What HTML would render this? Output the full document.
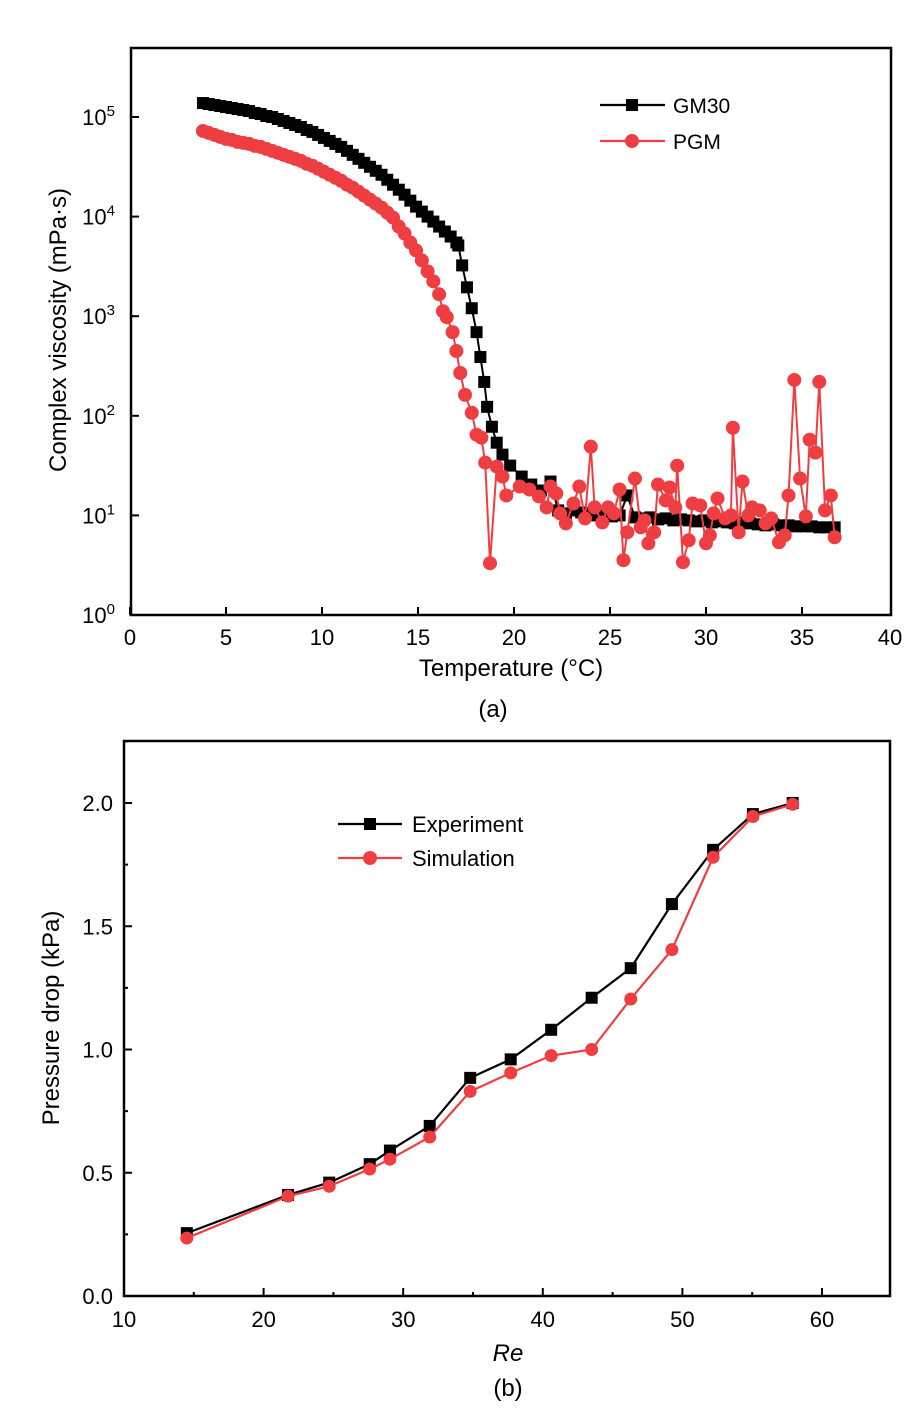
<!DOCTYPE html>
<html><head><meta charset="utf-8"><style>
html,body{margin:0;padding:0;background:#fff;}
svg{display:block;font-family:"Liberation Sans",Arial,sans-serif;}
</style></head><body>
<svg id="fig" width="920" height="1408" viewBox="0 0 920 1408"></svg>
<script>
// ---------- Chart (a) data ----------
const gmTemp = [3.8,4.1,4.4,4.7,5.0,5.3,5.6,5.9,6.2,6.5,6.8,7.1,7.4,7.7,8.0,8.3,8.6,8.9,9.2,9.5,9.8,10.1,10.4,10.7,11.0,11.3,11.6,11.9,12.2,12.5,12.8,13.1,13.4,13.7,14.0,14.3,14.6,14.9,15.2,15.5,15.8,16.1,16.4,16.7,17.0,17.1,17.3,17.55,17.8,18.05,18.25,18.45,18.6,18.85,19.1,19.4,19.8,20.4,20.9,21.4,21.9,22.3,22.7,23.1,23.5,23.9,24.3,24.7,25.1,25.5,25.9,26.3,26.7,27.1,27.5,27.9,28.3,28.7,29.1,29.5,29.9,30.3,30.7,31.1,31.5,31.9,32.3,32.7,33.1,33.5,33.9,34.3,34.7,35.1,35.5,35.9,36.3,36.7];
const gmLogVisc = [5.14,5.13,5.12,5.11,5.10,5.09,5.08,5.07,5.06,5.04,5.03,5.01,5.00,4.98,4.96,4.94,4.92,4.90,4.87,4.85,4.82,4.79,4.76,4.73,4.70,4.66,4.62,4.58,4.54,4.50,4.46,4.42,4.37,4.32,4.27,4.22,4.16,4.10,4.05,4.00,3.95,3.90,3.85,3.80,3.74,3.71,3.51,3.29,3.08,2.84,2.59,2.34,2.09,1.89,1.73,1.61,1.50,1.39,1.31,1.25,1.34,1.05,1.02,1.05,1.03,1.02,1.00,1.02,0.99,1.00,1.20,0.98,0.97,0.98,0.96,0.97,0.95,0.96,0.95,0.94,0.95,0.93,0.94,0.93,0.92,0.93,0.92,0.91,0.90,0.91,0.90,0.90,0.89,0.89,0.89,0.88,0.88,0.88];
const pgmTemp = [3.8,4.1,4.4,4.7,5.0,5.3,5.6,5.9,6.2,6.5,6.8,7.1,7.4,7.7,8.0,8.3,8.6,8.9,9.2,9.5,9.8,10.1,10.4,10.7,11.0,11.3,11.6,11.9,12.2,12.5,12.8,13.1,13.4,13.7,14.0,14.3,14.6,14.9,15.2,15.5,15.8,16.1,16.3,16.5,16.8,17.0,17.2,17.45,17.8,18.05,18.3,18.5,18.75,19.1,19.4,19.6,20.3,20.8,21.3,21.7,21.9,22.2,22.4,22.7,23.1,23.4,23.7,24.0,24.2,24.6,24.9,25.2,25.5,25.7,25.9,26.3,26.6,26.8,27.0,27.3,27.5,27.9,28.1,28.4,28.5,28.8,29.1,29.3,29.7,30.0,30.2,30.4,30.6,31.0,31.3,31.4,31.7,31.9,32.2,32.4,32.8,33.1,33.4,33.8,34.1,34.3,34.6,34.9,35.2,35.4,35.7,35.9,36.2,36.5,36.7];
const pgmLogVisc = [4.86,4.84,4.82,4.80,4.78,4.77,4.75,4.74,4.73,4.71,4.70,4.68,4.66,4.64,4.62,4.60,4.58,4.56,4.53,4.51,4.48,4.45,4.42,4.39,4.36,4.32,4.29,4.25,4.21,4.17,4.13,4.09,4.04,3.99,3.90,3.83,3.74,3.66,3.56,3.45,3.35,3.22,3.05,2.99,2.84,2.65,2.43,2.21,2.03,1.81,1.78,1.53,0.52,1.49,1.39,1.20,1.29,1.26,1.19,1.08,1.29,1.22,1.02,0.92,1.12,1.29,0.97,1.69,1.08,0.93,1.08,1.02,1.26,0.55,0.83,1.37,0.88,0.95,0.72,0.83,1.31,1.15,1.28,1.08,1.50,0.53,0.75,1.12,1.10,0.72,0.80,1.02,1.17,0.97,1.00,1.88,0.83,1.34,1.00,1.08,1.05,0.92,0.97,0.73,0.80,1.20,2.36,1.37,0.99,1.76,1.63,2.34,1.05,1.20,0.78];
const aXTicks = [0,5,10,15,20,25,30,35,40];
const aYDecades = [0,1,2,3,4,5];

// ---------- Chart (b) data ----------
const reValues = [14.5,21.75,24.7,27.6,29.05,31.9,34.8,37.7,40.6,43.5,46.3,49.25,52.2,55.05,57.9];
const expDrop = [0.255,0.41,0.46,0.535,0.59,0.69,0.885,0.96,1.08,1.21,1.33,1.59,1.81,1.955,2.0];
const simDrop = [0.235,0.405,0.445,0.515,0.555,0.645,0.83,0.905,0.975,1.0,1.205,1.405,1.78,1.945,1.995];
const bXTicks = [10,20,30,40,50,60];
const bYTicks = [0.0,0.5,1.0,1.5,2.0];
const bYTickLabels = ["0.0","0.5","1.0","1.5","2.0"];

const NS = "http://www.w3.org/2000/svg";
const svg = document.getElementById('fig');
function mk(tag, attrs, parent) {
  const e = document.createElementNS(NS, tag);
  for (const k in attrs) e.setAttribute(k, attrs[k]);
  (parent || svg).appendChild(e);
  return e;
}
const RED = "#ef3e42";

// ===== Chart (a) =====
const aL = 131, aR = 891, aT = 48, aB = 615;
const ax = v => 130 + 19.2 * v;
const ay = lv => 615 - 99.6 * lv;
const gA = mk('g', {});



aXTicks.forEach(t => {
  const x = Math.min(ax(t), aR);
  const l = mk('line', {x1:x, x2:x, y1:aB, y2:aB-8, stroke:'#000','stroke-width':2}, gA);
  
  
  const tx = mk('text', {x: t===40 ? 890 : x, y:645, 'font-size':22, 'text-anchor':'middle'}, gA);
  tx.textContent = t;
  
  
});
aYDecades.forEach(d => {
  const y = ay(d);
  const l = mk('line', {x1:aL, x2:aL+8, y1:y, y2:y, stroke:'#000','stroke-width':2}, gA);
  
  
  const tx = mk('text', {x:115, y:y+8, 'font-size':22, 'text-anchor':'end'}, gA);
  
  
  tx.innerHTML = '10<tspan dy="-9" font-size="15">' + d + '</tspan>';
});

function series(g, xs, ys, fx, fy, color, shape, size, name, lw) {
  const pts = xs.map((x,i) => fx(x) + ',' + fy(ys[i])).join(' ');
  const pl = mk('polyline', {points: pts, fill:'none', stroke: color, 'stroke-width':lw}, g);
  
  
  xs.forEach((x,i) => {
    const px = fx(x), py = fy(ys[i]);
    let m;
    if (shape === 'sq') m = mk('rect', {x:px-size/2, y:py-size/2, width:size, height:size, fill:color}, g);
    else m = mk('circle', {cx:px, cy:py, r:size/2, fill:color}, g);
    
    
  });
}
series(gA, gmTemp, gmLogVisc, ax, ay, '#000', 'sq', 12, 'gm30', 2);
series(gA, pgmTemp, pgmLogVisc, ax, ay, RED, 'ci', 14, 'pgm', 2);

const boxA = mk('rect', {x:aL, y:aT, width:aR-aL, height:aB-aT, fill:'none', stroke:'#000','stroke-width':2.5}, gA);



// legend a
const legA = mk('g', {}, gA);


mk('line', {x1:600, x2:665, y1:105, y2:105, stroke:'#000','stroke-width':2.2}, legA);
mk('rect', {x:626, y:99, width:12, height:12, fill:'#000'}, legA);
const la1 = mk('text', {x:673, y:113, 'font-size':21}, legA); la1.textContent = 'GM30';


mk('line', {x1:600, x2:665, y1:141, y2:141, stroke:RED,'stroke-width':2.2}, legA);
mk('circle', {cx:632, cy:141, r:7, fill:RED}, legA);
const la2 = mk('text', {x:673, y:149, 'font-size':21}, legA); la2.textContent = 'PGM';



const xtA = mk('text', {x:511, y:676, 'font-size':24, 'text-anchor':'middle'}, gA);
xtA.textContent = 'Temperature (°C)';


const ytA = mk('text', {x:0, y:0, 'font-size':24, 'text-anchor':'middle', transform:'translate(66,330) rotate(-90)'}, gA);
ytA.textContent = 'Complex viscosity (mPa·s)';


const capA = mk('text', {x:493, y:717, 'font-size':24, 'text-anchor':'middle'}, gA);
capA.textContent = '(a)';



// ===== Chart (b) =====
const bL = 124, bR = 890, bT = 741, bB = 1296;
const bx = v => 124 + 13.96 * (v - 10);
const by = v => 1296 - 246.5 * v;
const gB = mk('g', {});



bXTicks.forEach(t => {
  const x = bx(t);
  const l = mk('line', {x1:x, x2:x, y1:bB, y2:bB-8, stroke:'#000','stroke-width':2}, gB);
  
  
  const tx = mk('text', {x:x, y:1327, 'font-size':22, 'text-anchor':'middle'}, gB);
  tx.textContent = t;
  
  
  if (t < 60) {
    const xm = bx(t + 5);
    const m = mk('line', {x1:xm, x2:xm, y1:bB, y2:bB-4, stroke:'#000','stroke-width':2}, gB);
    
    
  }
});
bYTicks.forEach((t,i) => {
  const y = by(t);
  const l = mk('line', {x1:bL, x2:bL+8, y1:y, y2:y, stroke:'#000','stroke-width':2}, gB);
  
  
  const ym = by(t + 0.25);
  const m = mk('line', {x1:bL, x2:bL+4, y1:ym, y2:ym, stroke:'#000','stroke-width':2}, gB);
  
  
  const tx = mk('text', {x:113, y:y+8, 'font-size':22, 'text-anchor':'end'}, gB);
  tx.textContent = bYTickLabels[i];
  
  
});

series(gB, reValues, expDrop, bx, by, '#000', 'sq', 12, 'experiment', 2.2);
series(gB, reValues, simDrop, bx, by, RED, 'ci', 13, 'simulation', 2.2);

const boxB = mk('rect', {x:bL, y:bT, width:bR-bL, height:bB-bT, fill:'none', stroke:'#000','stroke-width':2.5}, gB);



const legB = mk('g', {}, gB);


mk('line', {x1:338, x2:402, y1:824, y2:824, stroke:'#000','stroke-width':2.2}, legB);
mk('rect', {x:364, y:818, width:12, height:12, fill:'#000'}, legB);
const lb1 = mk('text', {x:412, y:832, 'font-size':22}, legB); lb1.textContent = 'Experiment';


mk('line', {x1:338, x2:402, y1:858, y2:858, stroke:RED,'stroke-width':2.2}, legB);
mk('circle', {cx:370, cy:858, r:7, fill:RED}, legB);
const lb2 = mk('text', {x:412, y:866, 'font-size':22}, legB); lb2.textContent = 'Simulation';



const xtB = mk('text', {x:508, y:1361, 'font-size':24, 'text-anchor':'middle', 'font-style':'italic'}, gB);
xtB.textContent = 'Re';


const ytB = mk('text', {x:0, y:0, 'font-size':24, 'text-anchor':'middle', transform:'translate(59,1018) rotate(-90)'}, gB);
ytB.textContent = 'Pressure drop (kPa)';


const capB = mk('text', {x:508, y:1396, 'font-size':24, 'text-anchor':'middle'}, gB);
capB.textContent = '(b)';


</script>
</body></html>
